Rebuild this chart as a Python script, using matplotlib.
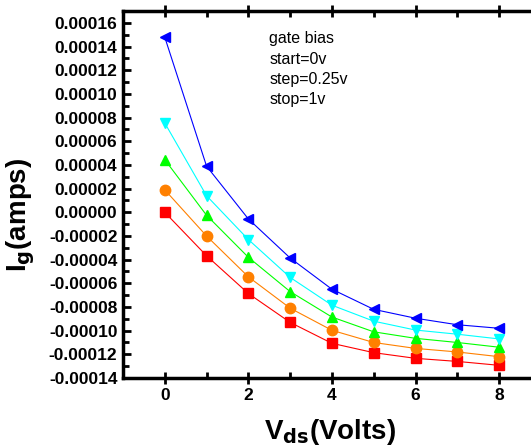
import numpy as np
import matplotlib.pyplot as plt
from matplotlib.ticker import MultipleLocator, FormatStrFormatter

plt.rcParams['font.family'] = ['Liberation Sans', 'DejaVu Sans']

vds = [0, 1, 2, 3, 4, 5, 6, 7, 8]
# gate current (amps) for each gate bias step
ig_0v = [0.0, -3.67e-5, -6.86e-5, -9.3e-5, -11.07e-5, -11.86e-5, -12.34e-5, -12.6e-5, -12.93e-5]
ig_025v = [1.9e-5, -2.0e-5, -5.45e-5, -8.1e-5, -9.97e-5, -11.0e-5, -11.5e-5, -11.8e-5, -12.2e-5]
ig_05v = [4.45e-5, -0.25e-5, -3.8e-5, -6.7e-5, -8.85e-5, -10.1e-5, -10.65e-5, -11.0e-5, -11.4e-5]
ig_075v = [7.55e-5, 1.4e-5, -2.3e-5, -5.5e-5, -7.85e-5, -9.2e-5, -9.95e-5, -10.3e-5, -10.7e-5]
ig_1v = [14.8e-5, 3.9e-5, -0.56e-5, -3.86e-5, -6.5e-5, -8.2e-5, -8.95e-5, -9.5e-5, -9.8e-5]

note = "gate bias\nstart=0v\nstep=0.25v\nstop=1v"

fig = plt.figure(figsize=(5.31, 4.46), dpi=100)
ax = fig.add_axes([0.2316, 0.1525, 0.787, 0.8225])

ax.plot(vds, ig_0v, color='#ff0000', marker='s', ms=6.5, lw=0.8)
ax.plot(vds, ig_025v, color='#ff8000', marker='o', ms=7.5, lw=0.8)
ax.plot(vds, ig_05v, color='#00ff00', marker='^', ms=7.5, lw=0.8)
ax.plot(vds, ig_075v, color='#00ffff', marker='v', ms=7.5, lw=0.8)
ax.plot(vds, ig_1v, color='#0000ff', marker='<', ms=7.5, lw=0.8)

ax.set_xlim(-1, 9)
ax.set_ylim(-0.00014, 0.00017)
ax.xaxis.set_major_locator(MultipleLocator(2))
ax.xaxis.set_minor_locator(MultipleLocator(1))
ax.yaxis.set_major_locator(MultipleLocator(0.00002))
ax.yaxis.set_minor_locator(MultipleLocator(0.00001))
ax.yaxis.set_major_formatter(FormatStrFormatter('%.5f'))

for s in ax.spines.values():
    s.set_linewidth(2.5)
ax.tick_params(which='both', direction='in', width=2, top=True, right=True)
ax.tick_params(which='major', length=6)
ax.tick_params(which='minor', length=4)
ax.tick_params(axis='x', which='major', direction='inout', length=8)
for lab in ax.get_xticklabels() + ax.get_yticklabels():
    lab.set_fontweight('bold')
    lab.set_fontsize(12.5)
ax.tick_params(axis='x', pad=3)
ax.tick_params(axis='y', pad=4)

ax.set_xlabel(r'V$_{\mathbf{ds}}$(Volts)', fontsize=20, fontweight='bold')
ax.set_ylabel(r'I$_{\mathbf{g}}$(amps)', fontsize=20, fontweight='bold')
ax.xaxis.set_label_coords(0.495, -0.105)
ax.yaxis.set_label_coords(-0.205, 0.444)

ax.text(2.5, 0.000153, note, fontsize=11.5, va='top', linespacing=1.45)

fig.savefig('out.png', dpi=100)
